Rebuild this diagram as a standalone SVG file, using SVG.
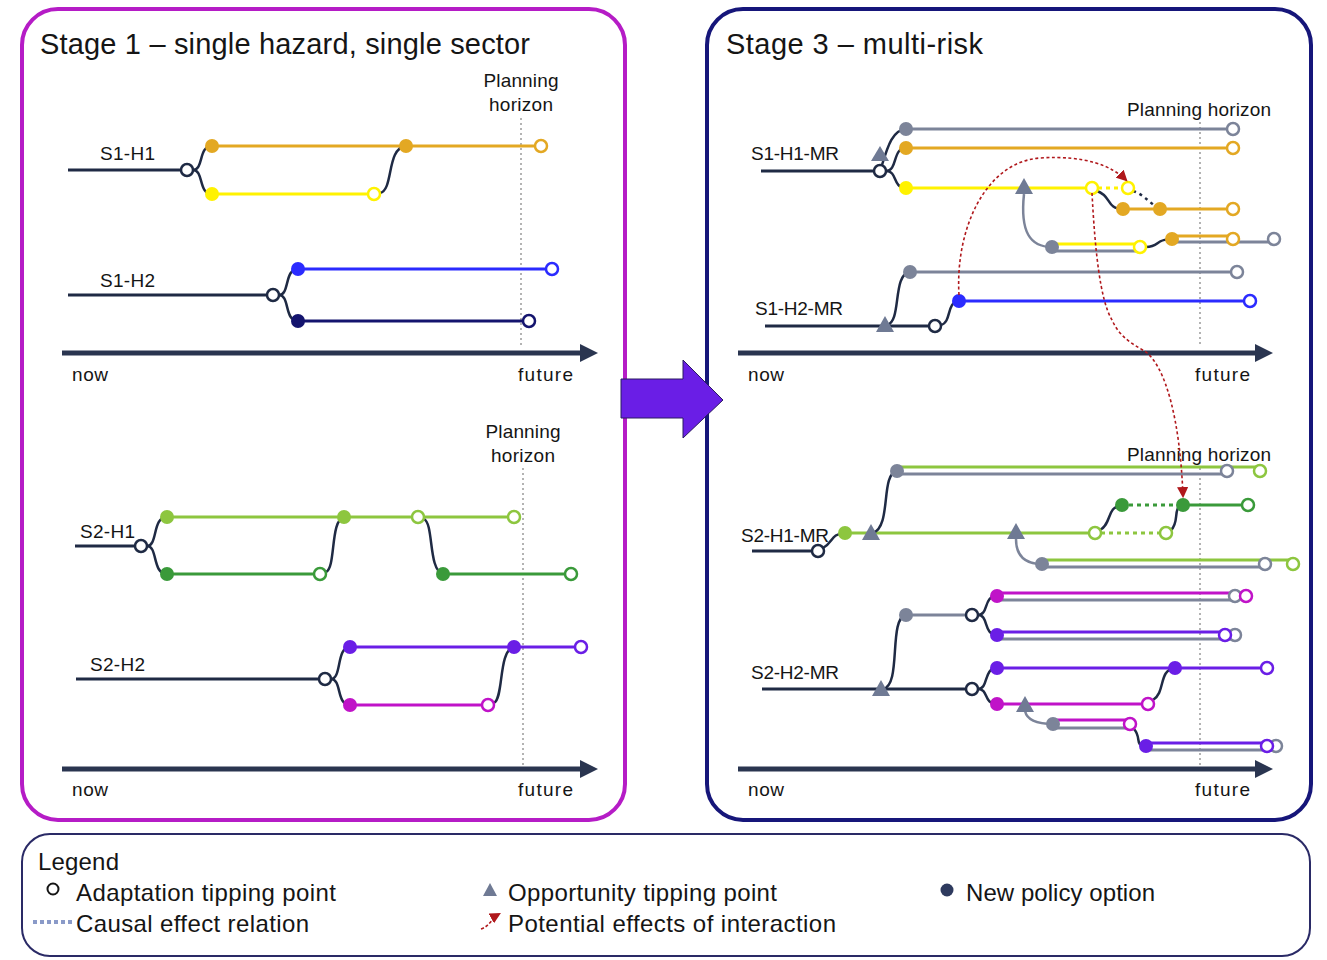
<svg xmlns="http://www.w3.org/2000/svg" width="1327" height="960" viewBox="0 0 1327 960">
<defs>
<style>
.t{font-family:"Liberation Sans",Arial,sans-serif;fill:#151515}
.ttl{font-size:29px}
.lab{font-size:19px}
.ph{font-size:19px}
.leg{font-size:24px}
.ln{fill:none;stroke-width:3}
.cv{fill:none;stroke:#1f2a44;stroke-width:2.5}
.base{stroke:#1f2a44;stroke-width:3}
.o{fill:#fff;stroke-width:2.5}
.dot{stroke:none}
.hz{stroke:#9a9a9a;stroke-width:1.5;stroke-dasharray:2 3}
.ax{stroke:#2a3550;stroke-width:5}
.tri{fill:#6f7a94}
.red{fill:none;stroke:#b0181c;stroke-width:1.6;stroke-dasharray:3 2.5}
.dt{stroke-dasharray:4 4}
</style>
<marker id="ra" viewBox="0 0 10 10" refX="8" refY="5" markerWidth="7" markerHeight="7" orient="auto">
<path d="M0,0 L10,5 L0,10 z" fill="#b0181c"/>
</marker>
</defs>
<rect width="1327" height="960" fill="#fff"/>

<!-- panels -->
<g id="panel-stage1">
<rect x="22" y="9" width="603" height="811" rx="36" fill="none" stroke="#b51cc6" stroke-width="4"/>
<text class="t ttl" x="40" y="54" textLength="490">Stage 1 – single hazard, single sector</text>
</g>
<g id="panel-stage3">
<rect x="707" y="9" width="604" height="811" rx="36" fill="none" stroke="#16167a" stroke-width="4"/>
<text class="t ttl" x="726" y="54" textLength="257">Stage 3 – multi-risk</text>
</g>
<g id="big-arrow">
<polygon points="621,379 683,379 683,360 723,400 683,438 683,418 621,418" fill="#6a1ee6" stroke="#2a1a60" stroke-width="1"/>
</g>

<!-- axes and horizons -->
<g id="axes">
<line class="hz" x1="521" y1="118" x2="521" y2="345"/>
<line class="ax" x1="62" y1="353" x2="582" y2="353"/>
<polygon points="580,344 598,353 580,362" fill="#2a3550"/>
<text class="t lab" x="72" y="381" textLength="36">now</text>
<text class="t lab" x="518" y="381" textLength="55">future</text>
<text class="t ph" x="521" y="87" text-anchor="middle" textLength="75">Planning</text>
<text class="t ph" x="521" y="111" text-anchor="middle" textLength="64">horizon</text>

<line class="hz" x1="523" y1="468" x2="523" y2="765"/>
<line class="ax" x1="62" y1="769" x2="582" y2="769"/>
<polygon points="580,760 598,769 580,778" fill="#2a3550"/>
<text class="t lab" x="72" y="796" textLength="36">now</text>
<text class="t lab" x="518" y="796" textLength="55">future</text>
<text class="t ph" x="523" y="438" text-anchor="middle" textLength="75">Planning</text>
<text class="t ph" x="523" y="462" text-anchor="middle" textLength="64">horizon</text>

<line class="hz" x1="1200" y1="122" x2="1200" y2="345"/>
<line class="ax" x1="738" y1="353" x2="1256" y2="353"/>
<polygon points="1255,344 1273,353 1255,362" fill="#2a3550"/>
<text class="t lab" x="748" y="381" textLength="36">now</text>
<text class="t lab" x="1195" y="381" textLength="55">future</text>
<text class="t ph" x="1127" y="116" textLength="144">Planning horizon</text>

<line class="hz" x1="1200" y1="468" x2="1200" y2="765"/>
<line class="ax" x1="738" y1="769" x2="1256" y2="769"/>
<polygon points="1255,760 1273,769 1255,778" fill="#2a3550"/>
<text class="t lab" x="748" y="796" textLength="36">now</text>
<text class="t lab" x="1195" y="796" textLength="55">future</text>
<text class="t ph" x="1127" y="461" textLength="144">Planning horizon</text>
</g>

<!-- Stage 1 pathways -->
<g id="S1-H1">
<text class="t lab" x="100" y="160" textLength="55">S1-H1</text>
<line class="base" x1="68" y1="170" x2="181" y2="170"/>
<line class="ln" stroke="#e3a823" x1="212" y1="146" x2="541" y2="146"/>
<line class="ln" stroke="#fff200" x1="212" y1="194" x2="374" y2="194"/>
<path class="cv" d="M193,170 C204,170 198,146 212,146"/>
<path class="cv" d="M193,170 C204,170 198,194 212,194"/>
<path class="cv" d="M380,193 C394,190 386,148 406,146"/>
<circle class="o" stroke="#1f2a44" cx="187" cy="170" r="6"/>
<circle class="dot" fill="#e3a823" cx="212" cy="146" r="7"/>
<circle class="dot" fill="#e3a823" cx="406" cy="146" r="7"/>
<circle class="o" stroke="#e3a823" cx="541" cy="146" r="6"/>
<circle class="dot" fill="#fff200" cx="212" cy="194" r="7"/>
<circle class="o" stroke="#fff200" cx="374" cy="194" r="6"/>
</g>
<g id="S1-H2">
<text class="t lab" x="100" y="287" textLength="55">S1-H2</text>
<line class="base" x1="68" y1="295" x2="267" y2="295"/>
<line class="ln" stroke="#2b2bff" x1="298" y1="269" x2="552" y2="269"/>
<line class="ln" stroke="#14146e" x1="298" y1="321" x2="529" y2="321"/>
<path class="cv" d="M279,295 C290,295 284,269 298,269"/>
<path class="cv" d="M279,295 C290,295 284,321 298,321"/>
<circle class="o" stroke="#1f2a44" cx="273" cy="295" r="6"/>
<circle class="dot" fill="#2b2bff" cx="298" cy="269" r="7"/>
<circle class="o" stroke="#2b2bff" cx="552" cy="269" r="6"/>
<circle class="dot" fill="#14146e" cx="298" cy="321" r="7"/>
<circle class="o" stroke="#14146e" cx="529" cy="321" r="6"/>
</g>
<g id="S2-H1">
<text class="t lab" x="80" y="538" textLength="55">S2-H1</text>
<line class="base" x1="75" y1="546" x2="135" y2="546"/>
<line class="ln" stroke="#8dc63f" x1="167" y1="517" x2="514" y2="517"/>
<line class="ln" stroke="#3a9a3a" x1="167" y1="574" x2="320" y2="574"/>
<line class="ln" stroke="#3a9a3a" x1="443" y1="574" x2="571" y2="574"/>
<path class="cv" d="M147,546 C158,546 152,517 167,517"/>
<path class="cv" d="M147,546 C158,546 152,574 167,574"/>
<path class="cv" d="M326,572 C336,568 330,520 344,517"/>
<path class="cv" d="M424,519 C434,524 428,570 443,574"/>
<circle class="o" stroke="#1f2a44" cx="141" cy="546" r="6"/>
<circle class="dot" fill="#8dc63f" cx="167" cy="517" r="7"/>
<circle class="dot" fill="#8dc63f" cx="344" cy="517" r="7"/>
<circle class="o" stroke="#8dc63f" cx="418" cy="517" r="6"/>
<circle class="o" stroke="#8dc63f" cx="514" cy="517" r="6"/>
<circle class="dot" fill="#3a9a3a" cx="167" cy="574" r="7"/>
<circle class="o" stroke="#3a9a3a" cx="320" cy="574" r="6"/>
<circle class="dot" fill="#3a9a3a" cx="443" cy="574" r="7"/>
<circle class="o" stroke="#3a9a3a" cx="571" cy="574" r="6"/>
</g>
<g id="S2-H2">
<text class="t lab" x="90" y="671" textLength="55">S2-H2</text>
<line class="base" x1="76" y1="679" x2="319" y2="679"/>
<line class="ln" stroke="#6a1ee6" x1="350" y1="647" x2="581" y2="647"/>
<line class="ln" stroke="#c013c8" x1="350" y1="705" x2="488" y2="705"/>
<path class="cv" d="M331,679 C342,679 336,647 350,647"/>
<path class="cv" d="M331,679 C342,679 336,705 350,705"/>
<path class="cv" d="M494,703 C504,698 498,650 514,647"/>
<circle class="o" stroke="#1f2a44" cx="325" cy="679" r="6"/>
<circle class="dot" fill="#6a1ee6" cx="350" cy="647" r="7"/>
<circle class="dot" fill="#6a1ee6" cx="514" cy="647" r="7"/>
<circle class="o" stroke="#6a1ee6" cx="581" cy="647" r="6"/>
<circle class="dot" fill="#c013c8" cx="350" cy="705" r="7"/>
<circle class="o" stroke="#c013c8" cx="488" cy="705" r="6"/>
</g>

<!-- Stage 3 pathways -->
<g id="S1-H1-MR">
<text class="t lab" x="751" y="160" textLength="88">S1-H1-MR</text>
<line class="base" x1="761" y1="171" x2="874" y2="171"/>
<line class="ln" stroke="#7c8499" x1="906" y1="129" x2="1233" y2="129"/>
<line class="ln" stroke="#e3a823" x1="906" y1="148" x2="1233" y2="148"/>
<line class="ln" stroke="#fff200" x1="906" y1="188" x2="1092" y2="188"/>
<line class="ln dt" stroke="#fff200" x1="1098" y1="188" x2="1122" y2="188"/>
<line class="ln" stroke="#e3a823" x1="1123" y1="209" x2="1233" y2="209"/>
<line class="ln" stroke="#fff200" x1="1052" y1="244" x2="1140" y2="244"/>
<line class="ln" stroke="#7c8499" x1="1052" y1="251" x2="1140" y2="251"/>
<line class="ln" stroke="#e3a823" x1="1172" y1="236" x2="1233" y2="236"/>
<line class="ln" stroke="#7c8499" x1="1172" y1="242" x2="1274" y2="242"/>
<path class="cv" d="M882,165 C888,145 893,130 906,129"/>
<path class="cv" d="M886,171 C898,171 892,148 906,148"/>
<path class="cv" d="M886,171 C898,171 892,188 906,188"/>
<path class="cv" d="M1097,191 C1112,196 1106,209 1123,209"/>
<path class="cv" d="M1133,191 C1145,195 1150,204 1160,209" stroke-dasharray="3 4" stroke-width="3"/>
<path class="cv" d="M1146,247 C1160,247 1155,239 1172,239"/>
<path fill="none" stroke="#7c8499" stroke-width="2.5" d="M1024,194 C1020,232 1030,247 1052,247"/>
<polygon class="tri" points="880,146 871,161 889,161"/>
<polygon class="tri" points="1024,178 1015,194 1033,194"/>
<circle class="o" stroke="#1f2a44" cx="880" cy="171" r="6"/>
<circle class="dot" fill="#7c8499" cx="906" cy="129" r="7"/>
<circle class="o" stroke="#7c8499" cx="1233" cy="129" r="6"/>
<circle class="dot" fill="#e3a823" cx="906" cy="148" r="7"/>
<circle class="o" stroke="#e3a823" cx="1233" cy="148" r="6"/>
<circle class="dot" fill="#fff200" cx="906" cy="188" r="7"/>
<circle class="o" stroke="#fff200" cx="1092" cy="188" r="6"/>
<circle class="o" stroke="#fff200" cx="1128" cy="188" r="6"/>
<circle class="dot" fill="#e3a823" cx="1123" cy="209" r="7"/>
<circle class="dot" fill="#e3a823" cx="1160" cy="209" r="7"/>
<circle class="o" stroke="#e3a823" cx="1233" cy="209" r="6"/>
<circle class="dot" fill="#7c8499" cx="1052" cy="247" r="7"/>
<circle class="o" stroke="#fff200" cx="1140" cy="247" r="6"/>
<circle class="dot" fill="#e3a823" cx="1172" cy="239" r="7"/>
<circle class="o" stroke="#7c8499" cx="1274" cy="239" r="6"/>
<circle class="o" stroke="#e3a823" cx="1233" cy="239" r="6"/>
</g>
<g id="S1-H2-MR">
<text class="t lab" x="755" y="315" textLength="88">S1-H2-MR</text>
<line class="base" x1="765" y1="326" x2="929" y2="326"/>
<line class="ln" stroke="#7c8499" x1="910" y1="272" x2="1237" y2="272"/>
<line class="ln" stroke="#2b2bff" x1="959" y1="301" x2="1250" y2="301"/>
<path class="cv" d="M887,325 C902,322 892,274 910,272"/>
<path class="cv" d="M941,325 C952,322 946,302 959,301"/>
<polygon class="tri" points="885,316 876,332 894,332"/>
<circle class="o" stroke="#1f2a44" cx="935" cy="326" r="6"/>
<circle class="dot" fill="#7c8499" cx="910" cy="272" r="7"/>
<circle class="o" stroke="#7c8499" cx="1237" cy="272" r="6"/>
<circle class="dot" fill="#2b2bff" cx="959" cy="301" r="7"/>
<circle class="o" stroke="#2b2bff" cx="1250" cy="301" r="6"/>
</g>
<g id="S2-H1-MR">
<text class="t lab" x="741" y="542" textLength="88">S2-H1-MR</text>
<line class="base" x1="752" y1="551" x2="812" y2="551"/>
<line class="ln" stroke="#8dc63f" x1="845" y1="533" x2="1095" y2="533"/>
<line class="ln" stroke="#8dc63f" x1="897" y1="467" x2="1260" y2="467"/>
<line class="ln" stroke="#7c8499" x1="897" y1="474" x2="1227" y2="474"/>
<line class="ln" stroke="#8dc63f" x1="1042" y1="560" x2="1293" y2="560"/>
<line class="ln" stroke="#7c8499" x1="1042" y1="567" x2="1265" y2="567"/>
<line class="ln dt" stroke="#8dc63f" x1="1101" y1="533" x2="1160" y2="533"/>
<line class="ln dt" stroke="#3a9a3a" x1="1129" y1="505" x2="1177" y2="505"/>
<line class="ln" stroke="#3a9a3a" x1="1183" y1="505" x2="1248" y2="505"/>
<path class="cv" d="M823,548 C834,542 830,534 845,533"/>
<path class="cv" d="M873,533 C892,526 880,474 897,471"/>
<path class="cv" d="M1100,530 C1112,524 1106,507 1122,505"/>
<path class="cv" d="M1171,530 C1180,522 1172,507 1183,505"/>
<path fill="none" stroke="#7c8499" stroke-width="2.5" d="M1016,539 C1016,556 1025,564 1042,564"/>
<polygon class="tri" points="871,524 862,540 880,540"/>
<polygon class="tri" points="1016,523 1007,539 1025,539"/>
<circle class="o" stroke="#1f2a44" cx="818" cy="551" r="6"/>
<circle class="dot" fill="#8dc63f" cx="845" cy="533" r="7"/>
<circle class="dot" fill="#7c8499" cx="897" cy="471" r="7"/>
<circle class="o" stroke="#8dc63f" cx="1260" cy="471" r="6"/>
<circle class="o" stroke="#7c8499" cx="1227" cy="471" r="6"/>
<circle class="dot" fill="#7c8499" cx="1042" cy="564" r="7"/>
<circle class="o" stroke="#8dc63f" cx="1293" cy="564" r="6"/>
<circle class="o" stroke="#7c8499" cx="1265" cy="564" r="6"/>
<circle class="o" stroke="#8dc63f" cx="1095" cy="533" r="6"/>
<circle class="o" stroke="#8dc63f" cx="1166" cy="533" r="6"/>
<circle class="dot" fill="#3a9a3a" cx="1122" cy="505" r="7"/>
<circle class="dot" fill="#3a9a3a" cx="1183" cy="505" r="7"/>
<circle class="o" stroke="#3a9a3a" cx="1248" cy="505" r="6"/>
</g>
<g id="S2-H2-MR">
<text class="t lab" x="751" y="679" textLength="88">S2-H2-MR</text>
<line class="base" x1="762" y1="689" x2="966" y2="689"/>
<line class="ln" stroke="#7c8499" x1="906" y1="615" x2="966" y2="615"/>
<line class="ln" stroke="#c013c8" x1="997" y1="593" x2="1246" y2="593"/>
<line class="ln" stroke="#7c8499" x1="997" y1="600" x2="1235" y2="600"/>
<line class="ln" stroke="#6a1ee6" x1="997" y1="632" x2="1225" y2="632"/>
<line class="ln" stroke="#7c8499" x1="997" y1="639" x2="1235" y2="639"/>
<line class="ln" stroke="#6a1ee6" x1="997" y1="668" x2="1267" y2="668"/>
<line class="ln" stroke="#c013c8" x1="997" y1="704" x2="1148" y2="704"/>
<line class="ln" stroke="#c013c8" x1="1053" y1="720" x2="1130" y2="720"/>
<line class="ln" stroke="#7c8499" x1="1053" y1="728" x2="1130" y2="728"/>
<line class="ln" stroke="#6a1ee6" x1="1146" y1="743" x2="1267" y2="743"/>
<line class="ln" stroke="#7c8499" x1="1146" y1="750" x2="1276" y2="750"/>
<path class="cv" d="M883,689 C902,686 888,618 906,615"/>
<path class="cv" d="M978,615 C989,615 983,596 997,596"/>
<path class="cv" d="M978,615 C989,615 983,635 997,635"/>
<path class="cv" d="M978,689 C989,689 983,668 997,668"/>
<path class="cv" d="M978,689 C989,689 983,704 997,704"/>
<path class="cv" d="M1153,700 C1166,692 1158,670 1175,668"/>
<path class="cv" d="M1134,729 C1142,738 1134,746 1146,746"/>
<path fill="none" stroke="#7c8499" stroke-width="2.5" d="M1025,711 C1027,720 1036,724 1053,724"/>
<polygon class="tri" points="881,680 872,696 890,696"/>
<polygon class="tri" points="1025,696 1016,712 1034,712"/>
<circle class="dot" fill="#7c8499" cx="906" cy="615" r="7"/>
<circle class="o" stroke="#1f2a44" cx="972" cy="615" r="6"/>
<circle class="o" stroke="#1f2a44" cx="972" cy="689" r="6"/>
<circle class="dot" fill="#c013c8" cx="997" cy="596" r="7"/>
<circle class="o" stroke="#7c8499" cx="1235" cy="596" r="6"/>
<circle class="o" stroke="#c013c8" cx="1246" cy="596" r="6"/>
<circle class="dot" fill="#6a1ee6" cx="997" cy="635" r="7"/>
<circle class="o" stroke="#7c8499" cx="1235" cy="635" r="6"/>
<circle class="o" stroke="#6a1ee6" cx="1225" cy="635" r="6"/>
<circle class="dot" fill="#6a1ee6" cx="997" cy="668" r="7"/>
<circle class="dot" fill="#6a1ee6" cx="1175" cy="668" r="7"/>
<circle class="o" stroke="#6a1ee6" cx="1267" cy="668" r="6"/>
<circle class="dot" fill="#c013c8" cx="997" cy="704" r="7"/>
<circle class="o" stroke="#c013c8" cx="1148" cy="704" r="6"/>
<circle class="dot" fill="#7c8499" cx="1053" cy="724" r="7"/>
<circle class="o" stroke="#c013c8" cx="1130" cy="724" r="6"/>
<circle class="dot" fill="#6a1ee6" cx="1146" cy="746" r="7"/>
<circle class="o" stroke="#7c8499" cx="1276" cy="746" r="6"/>
<circle class="o" stroke="#6a1ee6" cx="1267" cy="746" r="6"/>
</g>

<!-- interaction connectors -->
<g id="connectors">
<path class="red" marker-end="url(#ra)" d="M959,295 C955,230 985,162 1040,158 C1085,155 1112,166 1126,180"/>
<path class="red" marker-end="url(#ra)" d="M1092,193 C1095,250 1100,300 1112,320 C1120,338 1133,344 1146,352 C1166,368 1180,420 1183,496"/>
</g>

<!-- legend -->
<g id="legend">
<rect x="22" y="834" width="1288" height="122" rx="28" fill="none" stroke="#2a2a66" stroke-width="2"/>
<text class="t leg" x="38" y="870" textLength="81">Legend</text>
<circle cx="53" cy="889" r="5.5" fill="#fff" stroke="#151515" stroke-width="2"/>
<text class="t leg" x="76" y="901" textLength="260">Adaptation tipping point</text>
<line x1="33" y1="922" x2="73" y2="922" stroke="#8a9ac8" stroke-width="4" stroke-dasharray="4 3"/>
<text class="t leg" x="76" y="932" textLength="233">Causal effect relation</text>
<polygon points="490,883 483,896 497,896" fill="#6f7a94"/>
<text class="t leg" x="508" y="901" textLength="269">Opportunity tipping point</text>
<path d="M481,929 C490,926 492,918 499,914" fill="none" stroke="#b0181c" stroke-width="1.6" stroke-dasharray="3 2" marker-end="url(#ra)"/>
<text class="t leg" x="508" y="932" textLength="328">Potential effects of interaction</text>
<circle cx="947" cy="890" r="6.5" fill="#2e3a5e"/>
<text class="t leg" x="966" y="901" textLength="189">New policy option</text>
</g>
</svg>
